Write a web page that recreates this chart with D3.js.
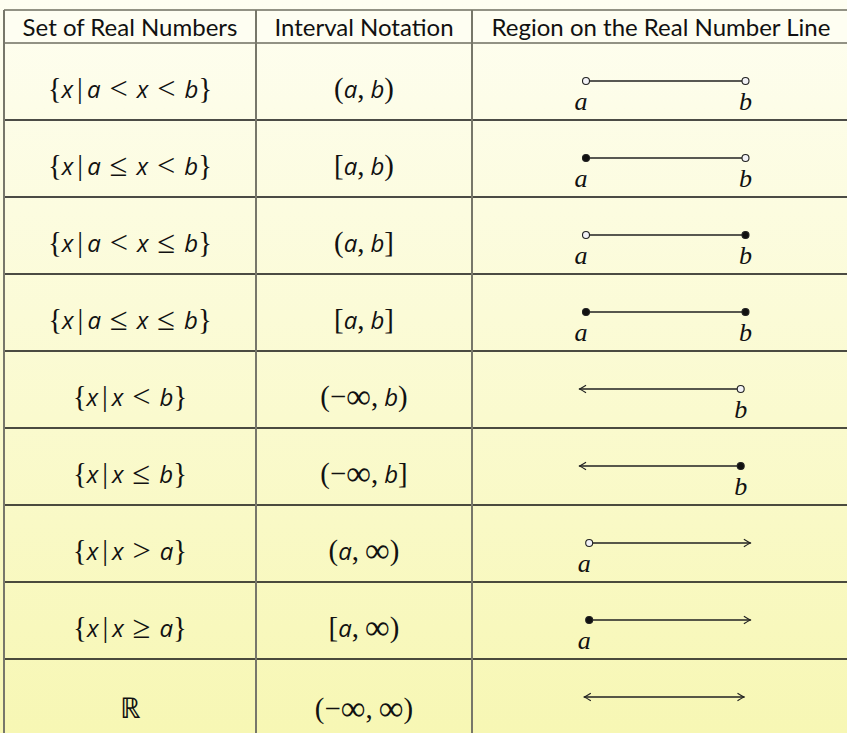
<!DOCTYPE html>
<html>
<head>
<meta charset="utf-8">
<script src="https://cdn.jsdelivr.net/npm/d3@7"></script>
<style>
  html, body { margin: 0; padding: 0; background: #fdfde9; }
  svg { display: block; }
</style>
</head>
<body>
<div id="chart"></div>
<script>
// table content
const headers = ["Set of Real Numbers", "Interval Notation", "Region on the Real Number Line"];
const setNotation = [
  "{x|a<x<b}", "{x|a≤x<b}", "{x|a<x≤b}", "{x|a≤x≤b}",
  "{x|x<b}", "{x|x≤b}", "{x|x>a}", "{x|x≥a}", "ℝ"
];
const intervalNotation = [
  "(a,b)", "[a,b)", "(a,b]", "[a,b]",
  "(−∞,b)", "(−∞,b]", "(a,∞)", "[a,∞)", "(−∞,∞)"
];
// number line ends: a = 0, b = 1
const leftEnd = ["open", "closed", "open", "closed", "arrow", "arrow", "open", "closed", "arrow"];
const rightEnd = ["open", "open", "closed", "closed", "open", "closed", "arrow", "arrow", "arrow"];
const leftPos = [0, 0, 0, 0, -0.04, -0.04, 0.02, 0.02, -0.01];
const rightPos = [1, 1, 1, 1, 0.97, 0.97, 1.03, 1.03, 0.99];
const rowHeights = [77, 77, 77, 77, 77, 77, 77, 77, 85];

const W = 847, H = 733;
const colEdges = [4, 256, 472, 850];
const tableTop = 10, headerH = 33;

const svg = d3.select("#chart").append("svg")
  .attr("width", W).attr("height", H);

const defs = svg.append("defs");
const grad = defs.append("linearGradient")
  .attr("id", "bg").attr("x1", 0).attr("y1", 0).attr("x2", 0).attr("y2", 1);
grad.append("stop").attr("offset", "0%").attr("stop-color", "#fefef1");
grad.append("stop").attr("offset", "100%").attr("stop-color", "#f7f7b4");

svg.append("rect").attr("width", W).attr("height", H).attr("fill", "url(#bg)");
svg.append("rect")
  .attr("x", colEdges[0]).attr("y", tableTop)
  .attr("width", colEdges[3] - colEdges[0]).attr("height", headerH)
  .attr("fill", "#fefef2");

// row tops
const rowTops = [];
let acc = tableTop + headerH;
rowHeights.forEach(h => { rowTops.push(acc); acc += h; });

const colCenter = i => (colEdges[i] + colEdges[i + 1]) / 2;

// grid lines
const grid = svg.append("g");
[tableTop, tableTop + headerH].forEach(y => {
  grid.append("line").attr("x1", colEdges[0]).attr("x2", W)
    .attr("y1", y).attr("y2", y)
    .attr("stroke", "#6e6e60").attr("stroke-width", 1.5);
});
rowTops.slice(1).forEach(y => {
  grid.append("line").attr("x1", colEdges[0]).attr("x2", W)
    .attr("y1", y).attr("y2", y)
    .attr("stroke", "#111").attr("stroke-width", 1.4);
});
colEdges.slice(0, 3).forEach(x => {
  grid.append("line").attr("x1", x).attr("x2", x)
    .attr("y1", tableTop).attr("y2", H)
    .attr("stroke", "#77776a").attr("stroke-width", 2);
});

// headers
svg.selectAll("text.header")
  .data(headers)
  .join("text")
  .attr("class", "header")
  .attr("x", (d, i) => colCenter(i))
  .attr("y", tableTop + 26)
  .attr("text-anchor", "middle")
  .attr("font-family", "Lato, 'Open Sans', sans-serif")
  .attr("font-size", 24)
  .attr("fill", "#111")
  .text(d => d);

// math text: letters in sans italic, symbols in serif, TeX-like spacing
const isRel = c => /[<>≤≥]/.test(c);
function gapBefore(prev, cur) {
  if (!prev) return 0;
  if (isRel(prev) || isRel(cur)) return 9;
  if (prev === "|" || cur === "|") return 4;
  if (prev === ",") return 6;
  return 0;
}
function glyphStyle(ch, size) {
  if (/[a-z]/.test(ch)) return { family: "'Open Sans', sans-serif", style: "italic", size: size, dy: 0 };
  if (ch === "∞") return { family: "'Liberation Serif', serif", style: "normal", size: size * 1.45, dy: 2 };
  if (isRel(ch)) return { family: "'Liberation Serif', serif", style: "normal", size: size * 1.35, dy: 1 };
  return { family: "'Liberation Serif', serif", style: "normal", size: size * 1.2, dy: 0 };
}
function mathText(sel, str, size) {
  let prev = null, shift = 0;
  [...str].forEach(ch => {
    const st = glyphStyle(ch, size);
    sel.append("tspan")
      .attr("dx", gapBefore(prev, ch))
      .attr("dy", st.dy - shift)
      .attr("font-family", st.family)
      .attr("font-style", st.style)
      .attr("font-size", st.size)
      .text(ch);
    shift = st.dy;
    prev = ch;
  });
}

svg.selectAll("text.set")
  .data(setNotation)
  .join("text")
  .attr("class", "set")
  .attr("x", colCenter(0))
  .attr("y", (d, i) => rowTops[i] + rowHeights[i] / 2 + 16)
  .attr("text-anchor", "middle")
  .attr("fill", "#111")
  .each(function (d) { mathText(d3.select(this), d, 24); });

svg.selectAll("text.interval")
  .data(intervalNotation)
  .join("text")
  .attr("class", "interval")
  .attr("x", colCenter(1))
  .attr("y", (d, i) => rowTops[i] + rowHeights[i] / 2 + 16)
  .attr("text-anchor", "middle")
  .attr("fill", "#111")
  .each(function (d) { mathText(d3.select(this), d, 24); });

// number lines
const x = d3.scaleLinear().domain([0, 1]).range([586, 745.5]);
const lines = svg.append("g").attr("stroke-linecap", "round");

rowTops.forEach((top, i) => {
  const y = top + 38;
  const x0 = x(leftPos[i]), x1 = x(rightPos[i]);
  const g = lines.append("g");
  g.append("line")
    .attr("x1", x0).attr("x2", x1).attr("y1", y).attr("y2", y)
    .attr("stroke", "#222").attr("stroke-width", 1.4);

  [[leftEnd[i], x0, -1, "a"], [rightEnd[i], x1, 1, "b"]].forEach(([kind, px, dir, lab]) => {
    if (kind === "arrow") {
      g.append("path")
        .attr("d", `M${px - dir * 6},${y - 3.5} Q${px - dir * 2},${y - 1} ${px},${y} Q${px - dir * 2},${y + 1} ${px - dir * 6},${y + 3.5}`)
        .attr("fill", "none").attr("stroke", "#222").attr("stroke-width", 1.2);
      return;
    }
    g.append("circle")
      .attr("cx", px).attr("cy", y).attr("r", 3.5)
      .attr("fill", kind === "open" ? "#f2f2f6" : "#111")
      .attr("stroke", "#222").attr("stroke-width", 1.1);
    g.append("text")
      .attr("x", lab === "a" ? px - 5 : px)
      .attr("y", y + 29)
      .attr("text-anchor", "middle")
      .attr("font-family", "'Liberation Serif', serif")
      .attr("font-style", "italic")
      .attr("font-size", 26)
      .attr("fill", "#111")
      .text(lab);
  });
});
</script>
</body>
</html>
